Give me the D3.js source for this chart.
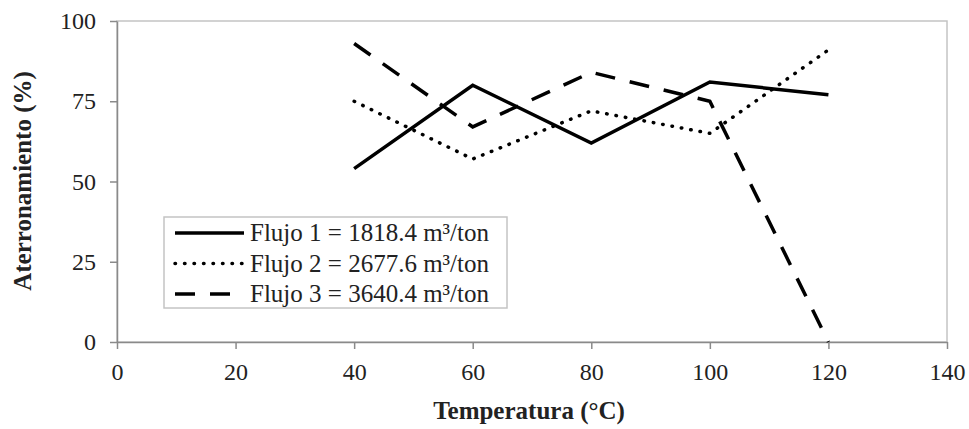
<!DOCTYPE html>
<html>
<head>
<meta charset="utf-8">
<script src="https://cdn.jsdelivr.net/npm/d3@7"></script>
<style>
  body { margin: 0; background: #fff; }
  svg text { font-family: "Liberation Serif", "Times New Roman", Times, "DejaVu Serif", serif; fill: #222; }
</style>
</head>
<body>
<div id="graph-area"></div>
<script>
// data
const TEMPS = [40, 60, 80, 100, 120]
const FLUJO_1 = [54, 80, 62, 81, 77]
const FLUJO_2 = [75, 57, 72, 65, 91]
const FLUJO_3 = [93, 67, 84, 75, 0]
const SERIES_NAMES = ['Flujo 1 = 1818.4 m³/ton', 'Flujo 2 = 2677.6 m³/ton', 'Flujo 3 = 3640.4 m³/ton']
const X_TICKS = [0, 20, 40, 60, 80, 100, 120, 140]
const Y_TICKS = [0, 25, 50, 75, 100]

const SERIF = '"Liberation Serif", "Times New Roman", Times, "DejaVu Serif", serif'

// dimensions and margins
var margin = { top: 21, right: 22, bottom: 87, left: 117 }
var width = 969 - margin.left - margin.right
var height = 429 - margin.top - margin.bottom

var svg = d3.select('#graph-area')
  .append('svg')
  .attr('width', 969)
  .attr('height', 429)
  .style('font-family', SERIF)

var container = svg.append('g')
  .attr('transform', 'translate(' + margin.left + ',' + margin.top + ')')

var xScale = d3.scaleLinear().domain([0, 140]).range([0, width])
var yScale = d3.scaleLinear().domain([0, 100]).range([height, 0])

// plot area frame
container.append('rect')
  .attr('width', width)
  .attr('height', height)
  .attr('fill', 'none')
  .attr('stroke', '#c4c4c4')
  .attr('stroke-width', 1.5)

// y axis
var yAxis = container.append('g')
  .call(d3.axisLeft(yScale).tickValues(Y_TICKS).tickSize(7).tickSizeOuter(0).tickPadding(14))
yAxis.attr('font-family', null)
yAxis.selectAll('text').attr('font-size', 24).style('font-family', SERIF)

// x axis
var xAxis = container.append('g')
  .attr('transform', 'translate(0,' + height + ')')
  .call(d3.axisBottom(xScale).tickValues(X_TICKS).tickSize(7).tickSizeOuter(0).tickPadding(14))
xAxis.attr('font-family', null)
xAxis.selectAll('text').attr('font-size', 24).style('font-family', SERIF)

container.selectAll('.domain, .tick line').attr('stroke', '#8a8a8a').attr('stroke-width', 1.5)

// axis titles
svg.append('text')
  .attr('x', margin.left + xScale(70) - 3)
  .attr('y', 419)
  .attr('text-anchor', 'middle')
  .attr('font-size', 25)
  .attr('font-weight', 'bold')
  .style('font-family', SERIF)
  .text('Temperatura (°C)')

svg.append('text')
  .attr('transform', 'translate(31,' + 181 + ') rotate(-90)')
  .attr('text-anchor', 'middle')
  .attr('font-size', 25)
  .attr('font-weight', 'bold')
  .style('font-family', SERIF)
  .text('Aterronamiento (%)')

// line styles
const STYLES = [
  { dash: null, cap: 'butt' },
  { dash: '0.5,9', cap: 'round' },
  { dash: '20,15', cap: 'butt' }
]
const ALL_SERIES = [FLUJO_1, FLUJO_2, FLUJO_3]

var line = d3.line()
  .x((d, i) => xScale(TEMPS[i]))
  .y(d => yScale(d))

ALL_SERIES.forEach(function (values, k) {
  container.append('path')
    .datum(values)
    .attr('d', line)
    .attr('fill', 'none')
    .attr('stroke', '#000')
    .attr('stroke-width', 3.5)
    .attr('stroke-linecap', STYLES[k].cap)
    .attr('stroke-linejoin', 'miter')
    .attr('stroke-dasharray', STYLES[k].dash)
})

// legend
var legend = svg.append('g').attr('transform', 'translate(164,217)')
legend.append('rect')
  .attr('width', 343)
  .attr('height', 91)
  .attr('fill', '#fff')
  .attr('stroke', '#c4c4c4')
  .attr('stroke-width', 1.5)

SERIES_NAMES.forEach(function (name, k) {
  var cy = 16 + k * 30.5
  legend.append('line')
    .attr('x1', 11).attr('x2', 80)
    .attr('y1', cy).attr('y2', cy)
    .attr('stroke', '#000')
    .attr('stroke-width', 3.5)
    .attr('stroke-linecap', STYLES[k].cap)
    .attr('stroke-dasharray', STYLES[k].dash)
  legend.append('text')
    .attr('x', 86)
    .attr('y', cy + 8)
    .attr('font-size', 25)
    .style('font-family', SERIF)
    .text(name)
})
</script>
</body>
</html>
